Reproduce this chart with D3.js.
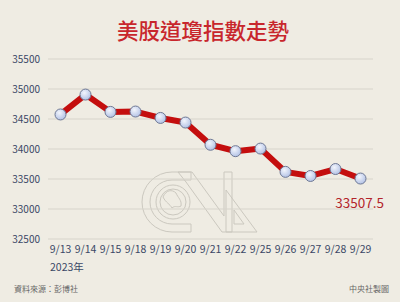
<!DOCTYPE html>
<html>
<head>
<meta charset="utf-8">
<script src="https://cdn.jsdelivr.net/npm/d3@7"></script>
<style>
body{margin:0;background:#efece3;}
svg{display:block;}
</style>
</head>
<body>
<div id="svgContainer"></div>
<script>
// chart data
var dates = ["9/13","9/14","9/15","9/18","9/19","9/20","9/21","9/22","9/25","9/26","9/27","9/28","9/29"];
var closes = [34575.53,34907.11,34618.24,34624.30,34517.73,34440.88,34070.42,33963.84,34006.88,33618.88,33550.27,33666.34,33507.50];
var yTicks = [32500,33000,33500,34000,34500,35000,35500];

var svgWidth = 400, svgHeight = 302;
var svg = d3.select("#svgContainer").append("svg")
    .attr("width",svgWidth)
    .attr("height",svgHeight)
    .style("background-color","#efece3");

var font = "'Noto Sans CJK TC','Noto Sans',sans-serif";
var textCol = "#3b4866";

var x = d3.scaleBand().domain(dates).range([48,373]);
var y = d3.scaleLinear().domain([32500,35500]).range([239,59]);

// title
svg.append("text")
    .attr("x",203).attr("y",39)
    .attr("text-anchor","middle")
    .attr("font-family",font)
    .attr("font-size",21.5)
    .attr("font-weight",500)
    .attr("fill","#c8262c")
    .text("美股道瓊指數走勢");

// watermark (CNA)
var wm = svg.append("g").attr("fill","none").attr("stroke","#cbc8bf").attr("stroke-width",1);
wm.append("path").attr("d","M191,172 L172,172 A30,30 0 0 0 172,232 L191,232 L191,224 L172,224 A22,22 0 0 1 172,180 L191,180 Z");
wm.append("circle").attr("cx",173).attr("cy",202).attr("r",17);
wm.append("circle").attr("cx",173).attr("cy",202).attr("r",13);
wm.append("path").attr("d","M178,172 L192,172 L224,216 L224,172 L232,172 L232,232 L222,232 L186,182 Z");
wm.append("path").attr("d","M226,232 L226,190 L257,232 Z M234,224 L234,210 L244,224 Z");
wm.append("path").attr("d","M163,197 C166,190 172,189 176,193 C178,198 182,200 181,206 C178,208 175,205 172,208 C170,204 166,203 163,197 Z");

// gridlines + y labels
svg.append("g").selectAll("line")
    .data(yTicks).enter().append("line")
    .attr("x1",48).attr("x2",373)
    .attr("y1",function(d){return y(d);})
    .attr("y2",function(d){return y(d);})
    .attr("stroke","#d7d4cb").attr("stroke-width",1);

var yaxis = svg.append("g")
    .attr("id","yaxis")
    .attr("transform","translate(40,0)")
    .call(d3.axisLeft(y).tickValues(yTicks).tickSize(0).tickPadding(0).tickFormat(d3.format("d")));
yaxis.select(".domain").remove();
yaxis.selectAll("text")
    .attr("font-family",font).attr("font-size",10).attr("fill",textCol);

// x axis labels
var xaxis = svg.append("g")
    .attr("id","xaxis")
    .attr("transform","translate(0,246)")
    .call(d3.axisBottom(x).tickSize(0).tickPadding(0));
xaxis.select(".domain").remove();
xaxis.selectAll("text")
    .attr("font-family",font).attr("font-size",10.5).attr("fill",textCol);

svg.append("text")
    .attr("x",50).attr("y",271)
    .attr("font-family",font).attr("font-size",10.5).attr("fill",textCol)
    .text("2023年");

// line
var line = d3.line()
    .x(function(d,i){return x(dates[i]) + x.bandwidth()/2;})
    .y(function(d){return y(d);});

svg.append("path")
    .datum(closes)
    .attr("d",line)
    .attr("fill","none")
    .attr("stroke","#c40e0e")
    .attr("stroke-width",6)
    .attr("stroke-linejoin","round");

// markers
var grad = svg.append("defs").append("radialGradient")
    .attr("id","dot").attr("cx","40%").attr("cy","35%").attr("r","65%");
grad.append("stop").attr("offset","0%").attr("stop-color","#f2f5fc");
grad.append("stop").attr("offset","100%").attr("stop-color","#b4c3e6");

svg.append("g").selectAll("circle")
    .data(closes).enter().append("circle")
    .attr("cx",function(d,i){return x(dates[i]) + x.bandwidth()/2;})
    .attr("cy",function(d){return y(d);})
    .attr("r",5.5)
    .attr("fill","url(#dot)")
    .attr("stroke","#6e7894")
    .attr("stroke-width",1);

// last value label
svg.append("text")
    .attr("x",384).attr("y",208)
    .attr("text-anchor","end")
    .attr("font-family",font).attr("font-size",13.5).attr("fill","#b3242a")
    .text(d3.format(".1f")(closes[closes.length-1]));

// footer
svg.append("text")
    .attr("x",14).attr("y",292)
    .attr("font-family",font).attr("font-size",8).attr("fill","#666")
    .text("資料來源：彭博社");
svg.append("text")
    .attr("x",389).attr("y",292)
    .attr("text-anchor","end")
    .attr("font-family",font).attr("font-size",8).attr("fill","#666")
    .text("中央社製圖");
</script>
</body>
</html>
